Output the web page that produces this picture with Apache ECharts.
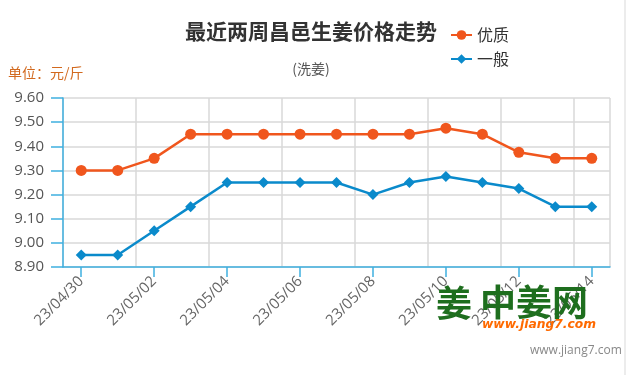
<!DOCTYPE html>
<html>
<head>
<meta charset="utf-8">
<script src="https://cdn.jsdelivr.net/npm/echarts@6/dist/echarts.min.js"></script>
<style>
html,body{margin:0;padding:0;background:#fff;}
#main{width:635px;height:375px;}
</style>
</head>
<body>
<div id="main"></div>
<script>
var categories = ['23/04/30','23/05/01','23/05/02','23/05/03','23/05/04','23/05/05','23/05/06','23/05/07','23/05/08','23/05/09','23/05/10','23/05/11','23/05/12','23/05/13','23/05/14'];
var premium = [9.30, 9.30, 9.35, 9.45, 9.45, 9.45, 9.45, 9.45, 9.45, 9.45, 9.475, 9.45, 9.375, 9.35, 9.35];
var ordinary = [8.95, 8.95, 9.05, 9.15, 9.25, 9.25, 9.25, 9.25, 9.20, 9.25, 9.275, 9.25, 9.225, 9.15, 9.15];
var seriesNames = ['优质', '一般'];
var yMin = 8.9, yMax = 9.6, yStep = 0.1;

var cjk = '"Noto Sans CJK SC", "Noto Sans", sans-serif';
var chart = echarts.init(document.getElementById('main'), null, {renderer: 'canvas'});
chart.setOption({
  animation: false,
  backgroundColor: '#fff',
  title: [
    {text: '最近两周昌邑生姜价格走势', left: 311, top: 21, padding: 0, textAlign: 'center',
     textStyle: {fontFamily: cjk, fontSize: 21, fontWeight: 'bold', color: '#333'}},
    {text: '(洗姜)', left: 311, top: 62, padding: 0, textAlign: 'center',
     textStyle: {fontFamily: cjk, fontSize: 14, fontWeight: 'normal', color: '#555'}},
    {text: '单位：元/斤', left: 8, top: 66, padding: 0,
     textStyle: {fontFamily: cjk, fontSize: 14, fontWeight: 'normal', color: '#d2691e'}}
  ],
  legend: {
    data: seriesNames,
    orient: 'vertical',
    left: 445, top: 22,
    itemGap: 8,
    itemWidth: 21, itemHeight: 12,
    textStyle: {fontFamily: cjk, fontSize: 16, color: '#333'}
  },
  grid: {left: 63, right: 25, top: 98, bottom: 108, containLabel: false},
  xAxis: {
    type: 'category',
    data: categories,
    boundaryGap: true,
    axisLine: {lineStyle: {color: '#3fb0e0', width: 1.5}},
    axisTick: {show: true, alignWithLabel: true, interval: 1, length: 10, lineStyle: {color: '#3fb0e0', width: 1.5}},
    axisLabel: {interval: 1, rotate: 45, fontFamily: '"Open Sans", sans-serif', fontSize: 15, color: '#666', margin: 12},
    splitLine: {show: true, interval: 1, lineStyle: {color: '#d8d8d8', width: 1.5}}
  },
  yAxis: {
    type: 'value',
    min: yMin, max: yMax, interval: yStep,
    axisLine: {show: true, lineStyle: {color: '#3fb0e0', width: 1.5}},
    axisTick: {show: true, length: 12, lineStyle: {color: '#3fb0e0', width: 1.5}},
    axisLabel: {formatter: function (v) { return v.toFixed(2); }, fontFamily: '"Open Sans", sans-serif', fontSize: 15, color: '#555', margin: 19},
    splitLine: {show: true, lineStyle: {color: '#d8d8d8', width: 1.5}}
  },
  series: [
    {name: seriesNames[0], type: 'line', data: premium, symbol: 'circle', symbolSize: 11,
     itemStyle: {color: '#f0561d'}, lineStyle: {color: '#f0561d', width: 2.5}},
    {name: seriesNames[1], type: 'line', data: ordinary, symbol: 'diamond', symbolSize: 11,
     itemStyle: {color: '#0a8acb'}, lineStyle: {color: '#0a8acb', width: 2.5}}
  ],
  graphic: [
    {type: 'line', shape: {x1: 625, y1: 0, x2: 625, y2: 375}, style: {stroke: '#e6e6e6', lineWidth: 1.5}, z: 0},
    {type: 'text', left: 436, top: 285, z: 100,
     style: {text: '姜', font: 'bold 36px "Noto Sans CJK SC"', fill: '#1e6e1e'}},
    {type: 'text', left: 480, top: 284, z: 100,
     style: {text: '中姜网', font: 'bold 36px "Noto Sans CJK SC"', fill: '#1e6e1e'}},
    {type: 'text', left: 482, top: 319, z: 100,
     style: {text: 'www.jiang7.com', font: 'italic bold 12.3px "DejaVu Sans", sans-serif', fill: '#ff6a00'}},
    {type: 'text', left: 530, top: 345, z: 100,
     style: {text: 'www.jiang7.com', font: '12px "Open Sans", sans-serif', fill: '#888'}}
  ]
});
</script>
</body>
</html>
